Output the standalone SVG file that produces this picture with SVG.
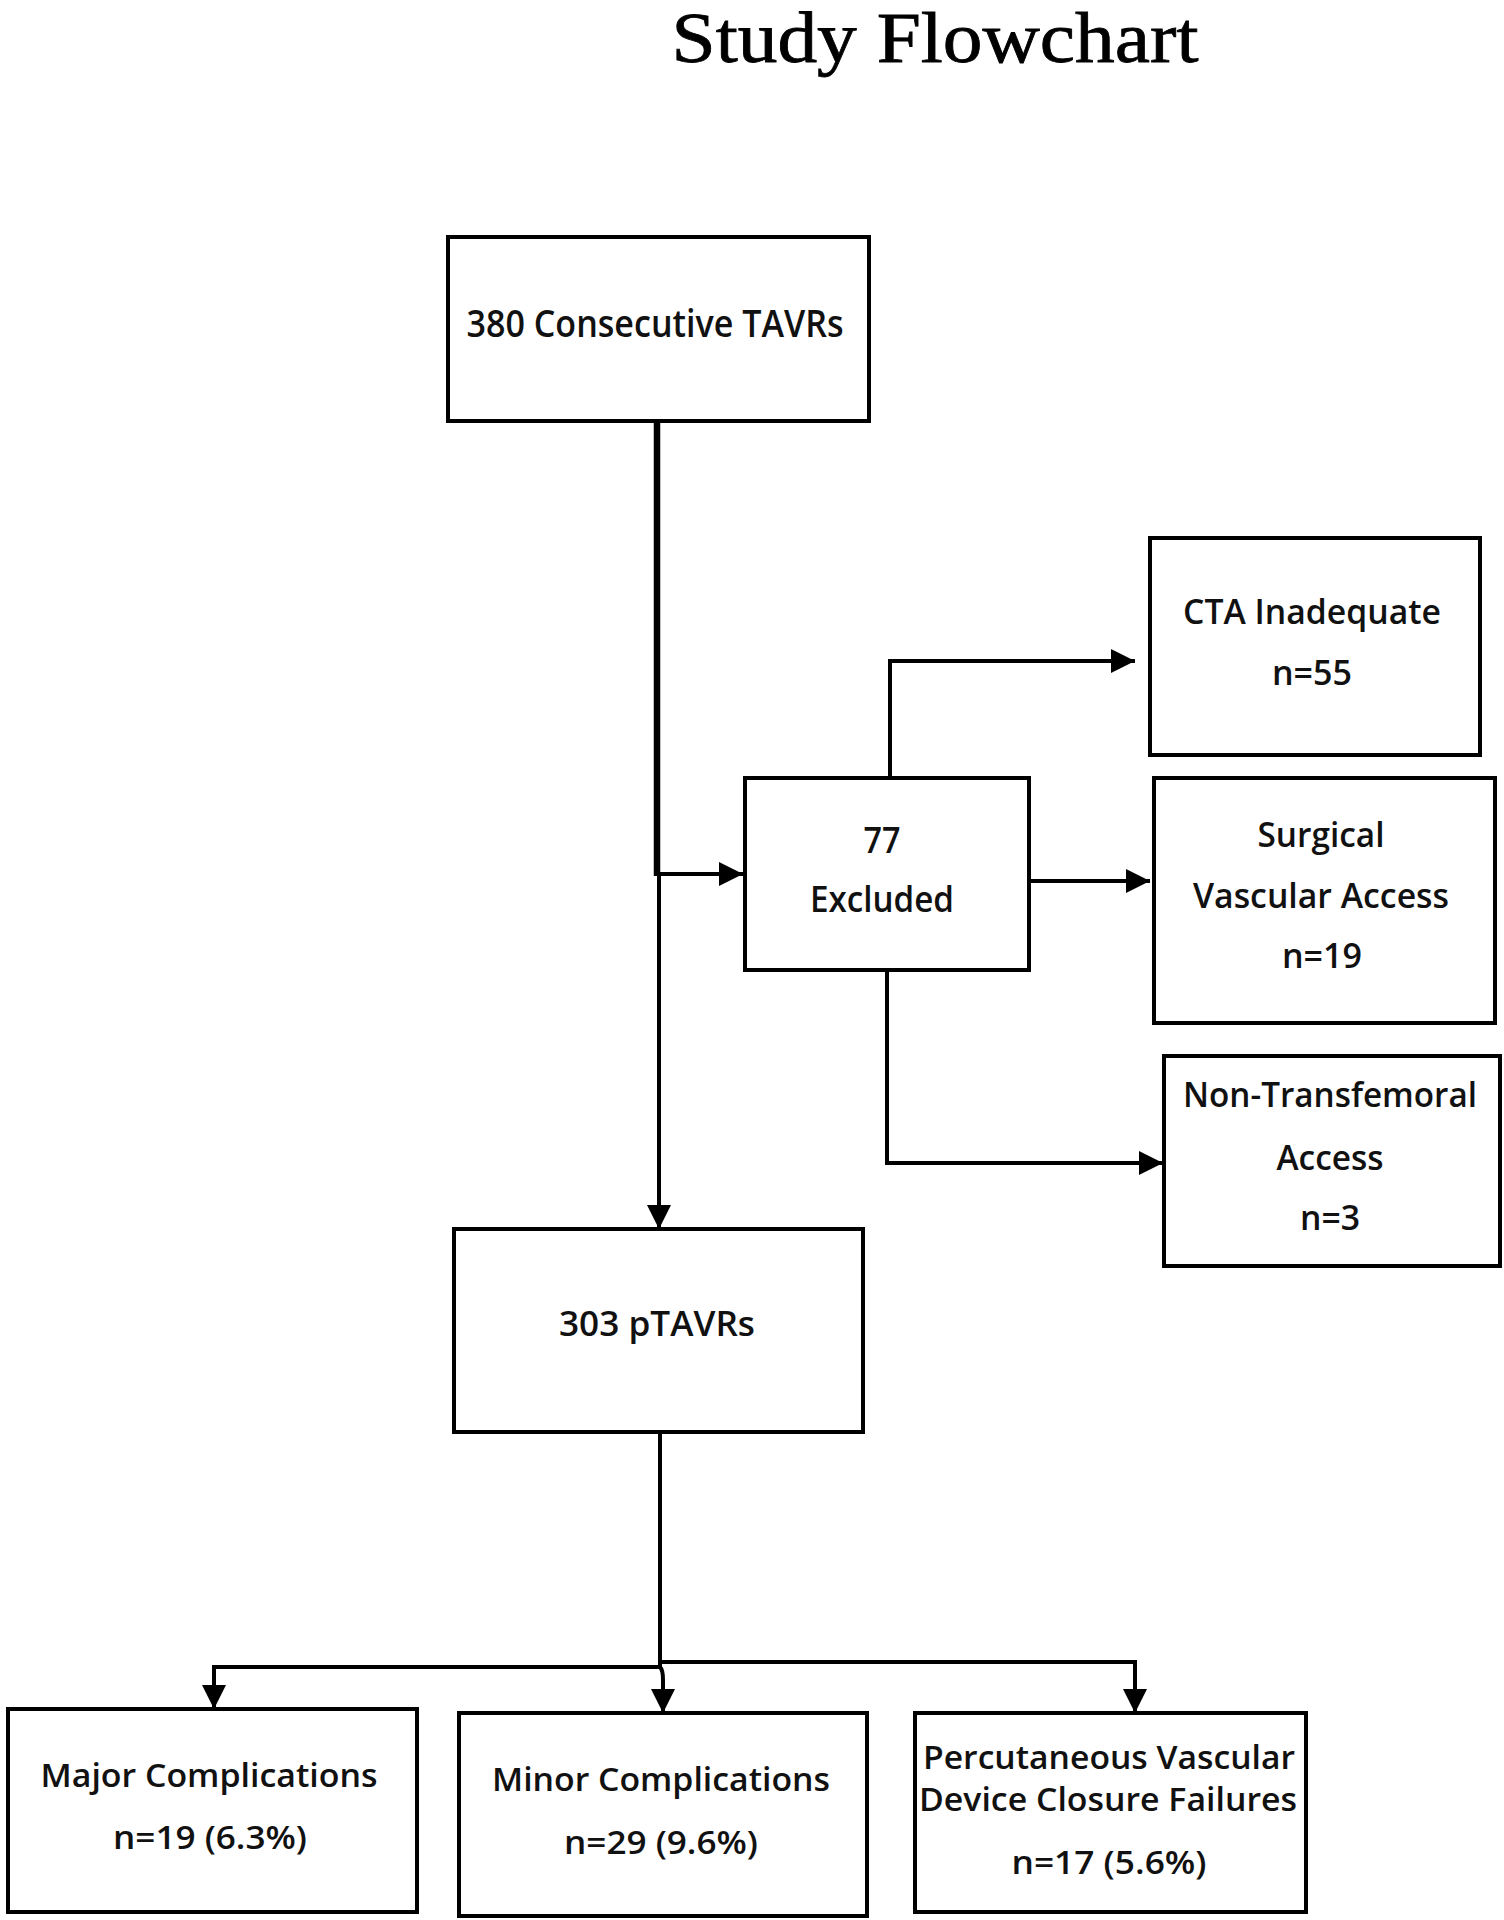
<svg xmlns="http://www.w3.org/2000/svg" width="1504" height="1920" viewBox="0 0 1504 1920">
<style>
.box{fill:#fff;stroke:#000;stroke-width:4}
.t{font-family:"Open Sans",Lato,"Liberation Sans",sans-serif;font-weight:600;fill:#111;text-anchor:middle}
.c{fill:none;stroke:#000;stroke-width:4}
.thick{stroke-width:6.5}
.title{font-family:"Liberation Serif","DejaVu Serif",serif;fill:#000;text-anchor:middle;stroke:#000;stroke-width:0.8}
</style>
<defs>
<marker id="ah" markerUnits="userSpaceOnUse" markerWidth="26" markerHeight="26" refX="24" refY="12" orient="auto">
<path d="M0,0 L24,12 L0,24 z" fill="#000"/>
</marker>
</defs>
<rect width="1504" height="1920" fill="#fff"/>
<text class="title" x="935" y="62" font-size="72" textLength="527" lengthAdjust="spacingAndGlyphs">Study Flowchart</text>

<g id="connectors">
<path class="c thick" d="M657,421 V876"/>
<path class="c" d="M659,874 V1229" marker-end="url(#ah)"/>
<path class="c" d="M657,874 H743" marker-end="url(#ah)"/>
<path class="c" d="M890,778 V661 H1135" marker-end="url(#ah)"/>
<path class="c" d="M1029,881 H1150" marker-end="url(#ah)"/>
<path class="c" d="M887,970 V1163 H1163" marker-end="url(#ah)"/>
<path class="c" d="M660,1432 V1667"/>
<path class="c" d="M660,1667 H214 V1709" marker-end="url(#ah)"/>
<path class="c" d="M660,1667 Q663,1670 663,1680 V1713" marker-end="url(#ah)"/>
<path class="c" d="M660,1662 H1135 V1713" marker-end="url(#ah)"/>
</g>

<g id="n380">
<rect class="box" x="448" y="237" width="421" height="184"/>
<text class="t" x="655" y="337" font-size="37" textLength="377" lengthAdjust="spacingAndGlyphs">380 Consecutive TAVRs</text>
</g>
<g id="excluded">
<rect class="box" x="745" y="778" width="284" height="192"/>
<text class="t" x="882" y="853" font-size="36" textLength="37" lengthAdjust="spacingAndGlyphs">77</text>
<text class="t" x="882" y="912" font-size="36" textLength="144" lengthAdjust="spacingAndGlyphs">Excluded</text>
</g>
<g id="cta">
<rect class="box" x="1150" y="538" width="330" height="217"/>
<text class="t" x="1312" y="624" font-size="34" textLength="258" lengthAdjust="spacingAndGlyphs">CTA Inadequate</text>
<text class="t" x="1312" y="685" font-size="34" textLength="80" lengthAdjust="spacingAndGlyphs">n=55</text>
</g>
<g id="surgical">
<rect class="box" x="1154" y="778" width="341" height="245"/>
<text class="t" x="1321" y="847" font-size="34" textLength="127" lengthAdjust="spacingAndGlyphs">Surgical</text>
<text class="t" x="1321" y="908" font-size="34" textLength="256" lengthAdjust="spacingAndGlyphs">Vascular Access</text>
<text class="t" x="1322" y="968" font-size="34" textLength="80" lengthAdjust="spacingAndGlyphs">n=19</text>
</g>
<g id="nontf">
<rect class="box" x="1164" y="1056" width="336" height="210"/>
<text class="t" x="1330" y="1107" font-size="34" textLength="294" lengthAdjust="spacingAndGlyphs">Non-Transfemoral</text>
<text class="t" x="1330" y="1170" font-size="34" textLength="107" lengthAdjust="spacingAndGlyphs">Access</text>
<text class="t" x="1330" y="1230" font-size="34" textLength="60" lengthAdjust="spacingAndGlyphs">n=3</text>
</g>
<g id="ptavr">
<rect class="box" x="454" y="1229" width="409" height="203"/>
<text class="t" x="657" y="1336" font-size="34" textLength="196" lengthAdjust="spacingAndGlyphs">303 pTAVRs</text>
</g>
<g id="major">
<rect class="box" x="8" y="1709" width="409" height="203"/>
<text class="t" x="209" y="1787" font-size="33" textLength="337" lengthAdjust="spacingAndGlyphs">Major Complications</text>
<text class="t" x="210" y="1849" font-size="33" textLength="194" lengthAdjust="spacingAndGlyphs">n=19 (6.3%)</text>
</g>
<g id="minor">
<rect class="box" x="459" y="1713" width="408" height="203"/>
<text class="t" x="661" y="1791" font-size="33" textLength="338" lengthAdjust="spacingAndGlyphs">Minor Complications</text>
<text class="t" x="661" y="1854" font-size="33" textLength="194" lengthAdjust="spacingAndGlyphs">n=29 (9.6%)</text>
</g>
<g id="perc">
<rect class="box" x="915" y="1713" width="391" height="199"/>
<text class="t" x="1109" y="1769" font-size="33" textLength="372" lengthAdjust="spacingAndGlyphs">Percutaneous Vascular</text>
<text class="t" x="1108" y="1811" font-size="33" textLength="378" lengthAdjust="spacingAndGlyphs">Device Closure Failures</text>
<text class="t" x="1109" y="1874" font-size="33" textLength="195" lengthAdjust="spacingAndGlyphs">n=17 (5.6%)</text>
</g>
</svg>
